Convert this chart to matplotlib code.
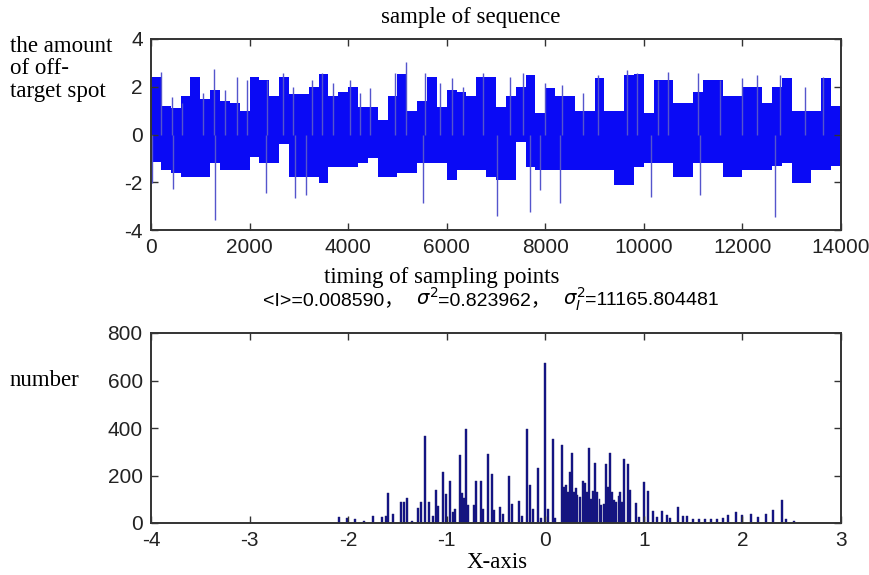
import numpy as np
import matplotlib
matplotlib.use("Agg")
import matplotlib.pyplot as plt

plt.rcParams["axes.unicode_minus"] = False

# ---------------- data: top panel (sample sequence, read per 200-sample bin) ----------------
bin_width = 200
upper_env = [2.4, 1.2, 1.1, 1.6, 2.4, 1.5, 1.85, 1.4, 1.3, 1.0,
             2.4, 2.3, 1.6, 2.4, 1.7, 1.7, 2.0, 2.55, 1.6, 1.8,
             2.0, 1.15, 1.15, 0.6, 1.6, 2.55, 1.0, 1.4, 2.4, 1.15,
             1.85, 1.8, 1.6, 2.4, 2.4, 1.15, 1.6, 2.0, 2.5, 0.9,
             1.95, 1.6, 1.6, 1.0, 1.0, 2.35, 1.0, 1.0, 2.5, 2.55,
             0.9, 2.3, 2.3, 1.3, 1.3, 1.8, 2.3, 2.3, 1.6, 1.6,
             2.0, 2.0, 1.3, 2.0, 2.35, 1.0, 1.0, 1.0, 2.35, 1.2]
lower_env = [-1.14, -1.5, -1.6, -1.77, -1.77, -1.77, -1.2, -1.49, -1.49, -1.49,
             -0.93, -1.2, -1.2, -0.4, -1.77, -1.77, -1.77, -2.05, -1.35, -1.35,
             -1.35, -1.2, -1.0, -1.77, -1.77, -1.63, -1.63, -1.2, -1.2, -1.2,
             -1.9, -1.49, -1.49, -1.49, -1.77, -1.9, -1.9, -0.3, -1.35, -1.5,
             -1.5, -1.49, -1.49, -1.49, -1.49, -1.49, -1.49, -2.1, -2.1, -1.35,
             -1.2, -1.2, -1.2, -1.77, -1.77, -1.2, -1.2, -1.2, -1.77, -1.77,
             -1.49, -1.49, -1.49, -1.3, -1.2, -2.05, -2.05, -1.49, -1.49, -1.3]

up_spike_x = [196, 420, 622, 1062, 1278, 1500, 1738, 1940, 2346, 2670, 2887, 3259,
              3462, 3698, 4036, 4239, 4442, 4949, 5166, 5558, 5862, 6099, 6335, 6741,
              7284, 7554, 7994, 8332, 8772, 9076, 9651, 9854, 10293, 10496, 11105,
              11545, 11984, 12288, 12762, 13269, 13640]
up_spike_y = [2.63, 1.58, 1.3, 1.72, 2.73, 1.86, 2.42, 2.28, 2.28, 2.59, 2.0, 2.28,
              2.56, 2.14, 2.28, 1.72, 1.93, 2.56, 3.02, 2.56, 2.14, 2.35, 2.0, 2.56,
              2.42, 2.59, 2.14, 2.07, 1.72, 2.49, 2.7, 2.56, 2.28, 2.63, 2.59,
              2.28, 2.35, 2.49, 2.49, 2.0, 2.42]
down_spike_x = [30, 453, 1300, 2333, 2921, 3144, 5524, 7011, 7690, 7892, 8298,
                10145, 11139, 12660]
down_spike_y = [-2.05, -2.3, -3.6, -2.47, -2.67, -2.53, -2.88, -3.4, -3.23, -2.33, -2.88,
                -2.6, -2.53, -3.44]

# ---------------- data: bottom panel (histogram) ----------------
hist_x = [-2.09, -2.01, -1.93, -1.84, -1.75, -1.66, -1.62, -1.60, -1.54, -1.46,
          -1.43, -1.40, -1.35, -1.29, -1.26, -1.22, -1.18, -1.14, -1.11, -1.09,
          -1.04, -1.01, -0.967, -0.94, -0.92, -0.865, -0.84, -0.82, -0.80, -0.78,
          -0.72, -0.70, -0.655, -0.63, -0.58, -0.545, -0.52, -0.46, -0.43, -0.365,
          -0.34, -0.265, -0.24, -0.183, -0.155, -0.12, -0.07, -0.04, 0.0, 0.03,
          0.08, 0.10, 0.17, 0.19, 0.21, 0.23, 0.25, 0.27, 0.29, 0.31,
          0.32, 0.35, 0.386, 0.40, 0.42, 0.443, 0.46, 0.48, 0.508, 0.52,
          0.55, 0.57, 0.60, 0.616, 0.64, 0.657, 0.68, 0.70, 0.72, 0.745,
          0.76, 0.78, 0.80, 0.843, 0.86, 0.92, 0.95, 1.0, 1.045, 1.09,
          1.13, 1.18, 1.23, 1.27, 1.35, 1.40, 1.44, 1.50, 1.56, 1.62,
          1.68, 1.74, 1.80, 1.85, 1.93, 2.0, 2.09, 2.16, 2.24, 2.31,
          2.40, 2.44, 2.52]
hist_n = [24, 20, 15, 10, 30, 25, 30, 125, 40, 90,
          90, 104, 8, 65, 90, 366, 90, 30, 140, 70,
          216, 121, 178, 45, 60, 286, 125, 105, 395, 75,
          75, 178, 178, 60, 290, 205, 55, 66, 40, 198,
          80, 93, 30, 394, 160, 60, 230, 20, 675, 60,
          352, 20, 328, 150, 160, 130, 216, 293, 130, 146,
          120, 110, 177, 170, 130, 317, 100, 135, 254, 130,
          100, 75, 80, 247, 150, 296, 130, 95, 90, 115,
          130, 90, 268, 248, 140, 85, 25, 171, 136, 50,
          25, 50, 35, 20, 69, 30, 30, 15, 18, 15,
          18, 15, 20, 35, 45, 35, 40, 25, 40, 55,
          97, 15, 10]

title_text = "sample of sequence"
top_ylabel = ["the amount", "of off-", "target spot"]
top_xlabel = "timing of sampling points"
stats_pieces = ["<I>=0.008590，", r"$\sigma^2$", "=0.823962，", r"$\sigma_I^2$", "=11165.804481"]
bottom_ylabel = "number"
bottom_xlabel = "X-axis"

# ---------------- figure ----------------
W, H = 869, 575
fig = plt.figure(figsize=(W / 100, H / 100), dpi=100)
fig.patch.set_facecolor("white")

serif = ["Liberation Serif", "DejaVu Serif"]
sans = ["Liberation Sans", "Noto Sans CJK SC", "DejaVu Sans"]


def px_axes(l, t, r, b):
    return fig.add_axes([l / W, 1 - b / H, (r - l) / W, (b - t) / H])


def style_axes(ax):
    for s in ax.spines.values():
        s.set_color("#333333")
        s.set_linewidth(1.4)
    ax.tick_params(direction="in", top=True, right=True, length=5, width=1.0,
                   colors="#333333", labelcolor="#222222", pad=6)
    for lab in ax.get_xticklabels() + ax.get_yticklabels():
        lab.set_fontfamily(sans)
        lab.set_fontsize(15)


# top panel
ax1 = px_axes(151, 39, 841, 230)
edges = np.arange(len(upper_env) + 1) * bin_width
ax1.fill_between(edges, list(lower_env) + [lower_env[-1]], list(upper_env) + [upper_env[-1]],
                 step="post", color="#0a0af5", linewidth=0)
ax1.vlines(up_spike_x, 0, up_spike_y, color="#5555cc", linewidth=1.0)
ax1.vlines(down_spike_x, down_spike_y, 0, color="#5555cc", linewidth=1.0)
ax1.set_xlim(0, 14000)
ax1.set_ylim(-4, 4)
ax1.set_xticks(np.arange(0, 14001, 2000))
ax1.set_yticks([-4, -2, 0, 2, 4])
style_axes(ax1)

# bottom panel
ax2 = px_axes(151, 333, 841, 523)
ax2.bar(hist_x, hist_n, width=0.02, color="#12128a", edgecolor="#20206a", linewidth=0.3)
ax2.set_xlim(-4, 3)
ax2.set_ylim(0, 800)
ax2.set_xticks(np.arange(-4, 4, 1))
ax2.set_yticks(np.arange(0, 801, 200))
style_axes(ax2)


def ftext(x, y, s, **kw):
    return fig.text(x / W, 1 - y / H, s, **kw)


ftext(471, 17, title_text, family=serif, fontsize=16.5, ha="center", va="center")
for i, line in enumerate(top_ylabel):
    ftext(10, 46 + i * 22.5, line, family=serif, fontsize=16.5, ha="left", va="center")
ftext(442, 283, top_xlabel, family=serif, fontsize=16.5, ha="center", va="baseline")
ftext(10, 380, bottom_ylabel, family=serif, fontsize=16.5, ha="left", va="center")
ftext(497, 563, bottom_xlabel, family=serif, fontsize=16.5, ha="center", va="center")

# stats line assembled from pieces, laid out left to right
renderer = fig.canvas.get_renderer()
gaps = [0, 12, 0, 12, 0]
items = []
for piece in stats_pieces:
    t = ftext(0, 305, piece, family=sans, fontsize=14, ha="left", va="baseline")
    items.append(t)
widths = [t.get_window_extent(renderer).width for t in items]
total = sum(widths) + sum(gaps)
x = 491 - total / 2
for t, w, g in zip(items, widths, gaps):
    x += g
    t.set_x(x / W)
    x += w

fig.savefig("out.png", dpi=100)
